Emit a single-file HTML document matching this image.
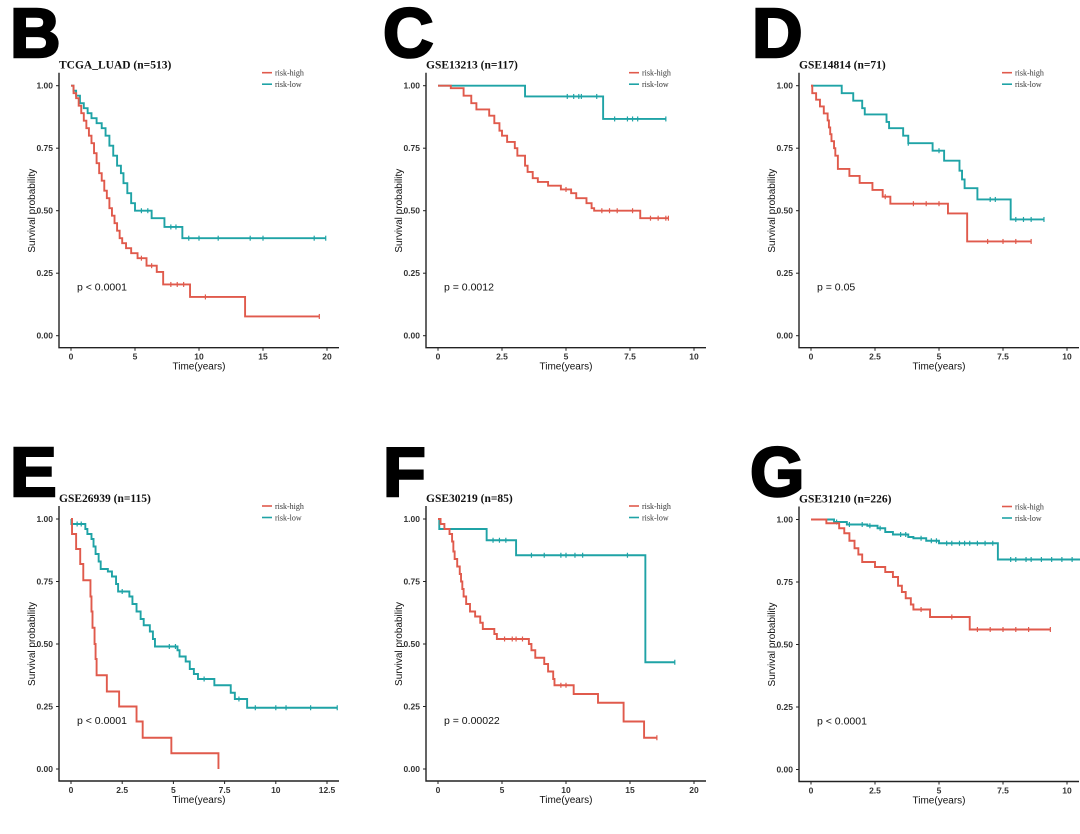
<!DOCTYPE html>
<html><head><meta charset="utf-8"><style>
html,body{margin:0;padding:0;background:#fff}
svg{display:block}
.tk{font-family:"Liberation Sans",sans-serif;font-size:8.5px;font-weight:600;fill:#333}
.tt{font-family:"Liberation Serif",serif;font-size:11.5px;font-weight:bold;fill:#111}
.lg{font-family:"Liberation Serif",serif;font-size:8px;fill:#333}
.ax{font-family:"Liberation Sans",sans-serif;font-size:10px;fill:#111}
.pv{font-family:"Liberation Sans",sans-serif;font-size:10.5px;fill:#111}
.big{font-family:"Liberation Sans",sans-serif;font-size:70px;font-weight:bold;fill:#000;stroke:#000;stroke-width:2.5px}
</style></head><body>
<svg id="fig" width="1080" height="834" viewBox="0 0 1080 834" xmlns="http://www.w3.org/2000/svg"></svg>
<script>
// Panel B
const bHighT=[0,0.2,0.4,0.6,0.8,1.0,1.2,1.4,1.6,1.8,2.0,2.2,2.4,2.6,2.8,3.0,3.2,3.4,3.6,3.8,4.0,4.3,4.7,5.2,5.9,6.7,7.2,9.3,13.6];
const bHighS=[1,0.97,0.95,0.92,0.89,0.86,0.83,0.80,0.77,0.73,0.69,0.65,0.62,0.58,0.55,0.51,0.48,0.45,0.42,0.39,0.37,0.35,0.33,0.31,0.28,0.255,0.205,0.155,0.077];
const bHighEnd=19.4; const bHighC=[5.5,6.3,7.8,8.3,8.8,10.5,19.4];
const bLowT=[0,0.2,0.4,0.7,1.0,1.3,1.6,2.0,2.4,2.7,3.0,3.3,3.6,3.9,4.1,4.4,4.7,5.0,6.3,7.3,8.7];
const bLowS=[1,0.98,0.96,0.93,0.91,0.89,0.87,0.85,0.83,0.80,0.76,0.72,0.68,0.65,0.61,0.57,0.53,0.50,0.47,0.435,0.39];
const bLowEnd=19.9; const bLowC=[5.5,6.0,7.8,8.2,9.2,10,11.5,14,15,19,19.9];
// Panel C
const cHighT=[0,0.5,1.0,1.3,1.5,2.0,2.2,2.4,2.5,2.7,3.0,3.1,3.4,3.5,3.7,3.9,4.3,4.8,5.2,5.4,5.8,6.0,6.1,7.9];
const cHighS=[1,0.99,0.96,0.93,0.905,0.88,0.85,0.82,0.80,0.775,0.75,0.72,0.68,0.655,0.63,0.615,0.60,0.585,0.57,0.55,0.53,0.51,0.50,0.47];
const cHighEnd=9.0; const cHighC=[5.0,6.4,6.7,7.0,7.6,8.3,8.6,8.9,9.0];
const cLowT=[0,3.4,6.45]; const cLowS=[1,0.957,0.867];
const cLowEnd=8.9; const cLowC=[5.05,5.3,5.5,5.6,6.2,6.9,7.4,7.6,7.8,8.9];
// Panel D
const dHighT=[0,0.05,0.2,0.35,0.5,0.65,0.7,0.75,0.8,0.9,0.95,1.05,1.5,1.9,2.4,2.8,3.1,5.35,6.1];
const dHighS=[1,0.97,0.944,0.917,0.889,0.861,0.833,0.806,0.778,0.75,0.72,0.667,0.639,0.611,0.583,0.556,0.528,0.489,0.377];
const dHighEnd=8.6; const dHighC=[2.9,4.0,4.5,5.0,6.9,7.5,8.0,8.6];
const dLowT=[0,1.2,1.65,2.0,2.1,2.95,3.05,3.6,3.8,4.75,5.2,5.8,5.9,6.0,6.5,7.8];
const dLowS=[1,0.97,0.94,0.91,0.885,0.855,0.83,0.80,0.77,0.74,0.70,0.66,0.625,0.59,0.545,0.465];
const dLowEnd=9.1; const dLowC=[3.8,5.0,7.0,7.2,8.0,8.3,8.6,9.1];
// Panel E
const eHighT=[0,0.05,0.25,0.45,0.6,0.95,1.0,1.05,1.15,1.2,1.25,1.75,2.35,3.2,3.5,4.9,7.2];
const eHighS=[1,0.94,0.88,0.82,0.755,0.69,0.63,0.565,0.50,0.44,0.375,0.31,0.25,0.19,0.125,0.063,0.0];
const eHighEnd=7.2; const eHighC=[];
const eLowT=[0,0.02,0.7,0.8,1.0,1.1,1.2,1.35,1.45,1.8,2.0,2.2,2.3,2.85,3.0,3.2,3.4,3.55,3.85,4.0,4.1,5.2,5.3,5.6,5.8,6.0,6.2,7.0,7.8,8.0,8.6];
const eLowS=[1,0.98,0.96,0.94,0.92,0.89,0.86,0.83,0.80,0.79,0.77,0.74,0.71,0.69,0.66,0.63,0.60,0.575,0.55,0.52,0.49,0.475,0.45,0.43,0.40,0.38,0.36,0.335,0.305,0.28,0.245];
const eLowEnd=13.0; const eLowC=[0.3,0.5,2.5,4.8,5.1,6.5,8.2,9.0,10,10.5,11.7,13];
// Panel F
const fHighT=[0,0.2,0.5,0.9,1.1,1.2,1.3,1.5,1.7,1.8,1.9,2.0,2.2,2.5,2.9,3.3,3.5,4.4,4.6,7.1,7.3,7.6,8.3,8.6,9.0,9.1,10.6,12.5,14.5,16.1];
const fHighS=[1,0.98,0.96,0.94,0.91,0.87,0.84,0.81,0.78,0.75,0.72,0.69,0.66,0.63,0.61,0.585,0.56,0.54,0.52,0.50,0.475,0.445,0.42,0.39,0.36,0.335,0.30,0.265,0.19,0.125];
const fHighEnd=17.1; const fHighC=[5.2,5.8,6.1,6.6,9.6,10.0,17.1];
const fLowT=[0,0.1,3.8,6.1,16.2]; const fLowS=[1,0.96,0.915,0.855,0.427];
const fLowEnd=18.5; const fLowC=[4.3,4.8,5.3,7.3,8.3,9.6,10.0,10.7,11.3,14.8,18.5];
// Panel G
const gHighT=[0,0.6,1.1,1.3,1.5,1.7,1.85,2.0,2.5,2.9,3.2,3.4,3.55,3.7,3.9,4.0,4.65,6.2];
const gHighS=[1,0.985,0.965,0.945,0.915,0.885,0.86,0.83,0.81,0.79,0.77,0.735,0.71,0.685,0.66,0.64,0.61,0.56];
const gHighEnd=9.35; const gHighC=[4.3,5.5,6.5,7.0,7.5,8.0,8.5,9.35];
const gLowT=[0,0.9,1.4,2.2,2.6,2.9,3.2,3.8,4.0,4.5,5.0,7.3];
const gLowS=[1,0.99,0.98,0.975,0.965,0.95,0.94,0.93,0.925,0.915,0.905,0.84];
const gLowEnd=10.6; const gLowC=[1.0,1.5,2.0,2.3,2.7,3.5,3.7,4.3,4.7,4.9,5.3,5.5,5.8,6.0,6.2,6.5,6.8,7.1,7.8,8.0,8.4,8.6,9.0,9.4,9.8,10.2];
// tick labels
const yTicks=[0,0.25,0.5,0.75,1];
const yTickLabels=["0.00","0.25","0.50","0.75","1.00"];
const ticks20=[0,5,10,15,20];
const ticks10=[0,2.5,5,7.5,10];
const ticks125=[0,2.5,5,7.5,10,12.5];

const svg=document.getElementById('fig');
const NS='http://www.w3.org/2000/svg';
const RED='#e05a4c', TEAL='#1fa3a6';
function mk(tag,attrs,parent){const e=document.createElementNS(NS,tag);for(const k in attrs)e.setAttribute(k,attrs[k]);(parent||svg).appendChild(e);return e;}

const panels=[
 {id:'b',letter:'B',lx:10,ly:57,x0:71,y1:85.7,xmax:20,ticks:ticks20,title:'TCGA_LUAD (n=513)',p:'p < 0.0001',hT:bHighT,hS:bHighS,hE:bHighEnd,hC:bHighC,lT:bLowT,lS:bLowS,lE:bLowEnd,lC:bLowC},
 {id:'c',letter:'C',lx:383,ly:57,x0:438,y1:85.7,xmax:10,ticks:ticks10,title:'GSE13213 (n=117)',p:'p = 0.0012',hT:cHighT,hS:cHighS,hE:cHighEnd,hC:cHighC,lT:cLowT,lS:cLowS,lE:cLowEnd,lC:cLowC},
 {id:'d',letter:'D',lx:752,ly:57,x0:811,y1:85.7,xmax:10,ticks:ticks10,title:'GSE14814 (n=71)',p:'p = 0.05',hT:dHighT,hS:dHighS,hE:dHighEnd,hC:dHighC,lT:dLowT,lS:dLowS,lE:dLowEnd,lC:dLowC},
 {id:'e',letter:'E',lx:10,ly:496,x0:71,y1:519,xmax:12.5,ticks:ticks125,title:'GSE26939 (n=115)',p:'p < 0.0001',hT:eHighT,hS:eHighS,hE:eHighEnd,hC:eHighC,lT:eLowT,lS:eLowS,lE:eLowEnd,lC:eLowC},
 {id:'f',letter:'F',lx:383,ly:496,x0:438,y1:519,xmax:20,ticks:ticks20,title:'GSE30219 (n=85)',p:'p = 0.00022',hT:fHighT,hS:fHighS,hE:fHighEnd,hC:fHighC,lT:fLowT,lS:fLowS,lE:fLowEnd,lC:fLowC},
 {id:'g',letter:'G',lx:750,ly:496,x0:811,y1:519.5,xmax:10,ticks:ticks10,title:'GSE31210 (n=226)',p:'p < 0.0001',hT:gHighT,hS:gHighS,hE:gHighEnd,hC:gHighC,lT:gLowT,lS:gLowS,lE:gLowEnd,lC:gLowC}
];

function stepPath(T,S,end,xs,ys){
  let d='M'+xs(T[0])+','+ys(S[0]);
  for(let i=1;i<T.length;i++){d+=' H'+xs(T[i])+' V'+ys(S[i]);}
  d+=' H'+xs(end);return d;
}
function survAt(T,S,t){let s=S[0];for(let i=0;i<T.length;i++){if(T[i]<=t)s=S[i];}return s;}

panels.forEach(P=>{
  const g=mk('g',{});
  
  
  const W=256,H=250,y0=P.y1+H;
  const xs=t=>P.x0+t/P.xmax*W;
  const ys=s=>y0-s*H;
  const L=mk('text',{x:P.lx,y:P.ly,class:'big'},g);L.textContent=P.letter;
  
  const t=mk('text',{x:P.x0-12,y:P.y1-17,class:'tt'},g);t.textContent=P.title;
  
  const ax=mk('path',{d:'M'+(P.x0-12)+','+(P.y1-13)+' V'+(y0+12)+' H'+(P.x0+268),stroke:'#222','stroke-width':1.4,fill:'none'},g);
  
  yTicks.forEach((v,i)=>{
    mk('line',{x1:P.x0-15,x2:P.x0-12,y1:ys(v),y2:ys(v),stroke:'#222','stroke-width':1},g);
    const tx=mk('text',{x:P.x0-18,y:ys(v)+3,'text-anchor':'end',class:'tk'},g);tx.textContent=yTickLabels[i];
    
  });
  P.ticks.forEach(v=>{
    mk('line',{x1:xs(v),x2:xs(v),y1:y0+12,y2:y0+15,stroke:'#222','stroke-width':1},g);
    const tx=mk('text',{x:xs(v),y:y0+24,'text-anchor':'middle',class:'tk'},g);tx.textContent=String(v);
    
  });
  const xl=mk('text',{x:P.x0+128,y:y0+34,'text-anchor':'middle',class:'ax'},g);xl.textContent='Time(years)';
  
  const yl=mk('text',{x:0,y:0,'text-anchor':'middle',class:'ax',transform:'translate('+(P.x0-36)+','+(P.y1+125)+') rotate(-90)'},g);yl.textContent='Survival probability';
  
  const pv=mk('text',{x:P.x0+6,y:P.y1+205,class:'pv'},g);pv.textContent=P.p;
  
  [[P.lT,P.lS,P.lE,P.lC,TEAL,'risk-low'],[P.hT,P.hS,P.hE,P.hC,RED,'risk-high']].forEach(c=>{
    const pa=mk('path',{d:stepPath(c[0],c[1],c[2],xs,ys),stroke:c[4],'stroke-width':1.9,fill:'none'},g);
    
    c[3].forEach(ct=>{
      const s=survAt(c[0],c[1],ct);
      const m=mk('line',{x1:xs(ct),x2:xs(ct),y1:ys(s)-2.5,y2:ys(s)+2.5,stroke:c[4],'stroke-width':1.2},g);
      
    });
  });
  [['risk-high',RED],['risk-low',TEAL]].forEach((e,i)=>{
    const lg=mk('g',{},g);
    
    const yy=P.y1-13+i*11.5;
    mk('line',{x1:P.x0+191,x2:P.x0+201,y1:yy,y2:yy,stroke:e[1],'stroke-width':1.6},lg);
    const lt=mk('text',{x:P.x0+204,y:yy+3,class:'lg'},lg);lt.textContent=e[0];
  });
});
</script>
</body></html>
